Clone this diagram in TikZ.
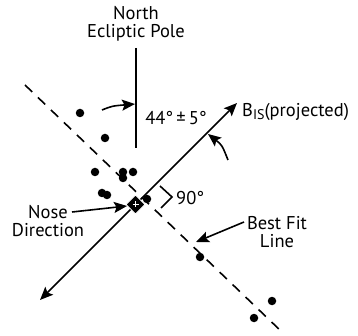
\documentclass[tikz,border=0pt]{standalone}
\usepackage{fontspec}
\setmainfont{PT Sans}
\usetikzlibrary{arrows.meta,shapes.geometric}
\begin{document}
\begin{tikzpicture}[x=1pt,y=-1pt,
  every node/.style={font=\fontsize{18.5}{20}\selectfont, inner sep=0pt},
  ln/.style={line width=1.7pt},
  arr/.style={line width=1.6pt,-{Stealth[length=13pt,width=11pt,inset=2.5pt]}},
  dot/.style={circle,fill=black,minimum size=8.5pt,inner sep=0pt},
  lbl/.style={align=center}]
\useasboundingbox (0,0) rectangle (358,336);
% coordinates
\coordinate (poleT) at (136,48);
\coordinate (poleB) at (136,148);
\coordinate (fitA) at (25,85);
\coordinate (fitB) at (283,333);
\coordinate (bLo) at (40,300);
\coordinate (bHi) at (237,103);
% lines
\draw[ln] (poleT) -- (poleB);
\draw[line width=1.6pt, dash pattern=on 10pt off 8pt] (fitA) -- (fitB);
\draw[line width=1.7pt,{Stealth[length=13pt,width=11pt,inset=2.5pt]}-{Stealth[length=13pt,width=11pt,inset=2.5pt]}] (bLo) -- (bHi);
% diamond (nose direction)
\node[draw=white,line width=0.6pt,fill=black,diamond,minimum size=19pt] (nose) at (135.5,204.5) {};
\draw[white,line width=1.3pt] (nose.center) ++(-3,0) -- ++(6,0) (nose.center) ++(0,-3) -- ++(0,6);
% dots
\foreach \n/\p in {d1/{(80,113)},d2/{(105,138)},d3/{(95,172)},d4/{(123,172)},d5/{(133,172)},d6/{(123,178)},d7/{(102,193)},d8/{(107,195)},d9/{(147,199)},d10/{(200,257)},d11/{(272,301)},d12/{(254,318)}}
  \node[dot] (\n) at \p {};
% labels
\node[lbl] (pole) at (136,24) {North\\[-2pt]Ecliptic Pole};
\node (ang) at (176,118) {44°\,±\,5°};
\node[anchor=west] (bis) at (242,112) {B{\fontsize{14}{14}\selectfont\raisebox{-3pt}{IS}}(projected)};
\node[lbl] (nosel) at (48,221) {Nose\\[-2pt]Direction};
\node[lbl] (fit) at (277,232) {Best Fit\\[-2pt]Line};
\node[anchor=west] (ninety) at (176,198) {90°};
% bracket
\coordinate (brA) at (160,186);
\coordinate (brC) at (172,197);
\coordinate (brB) at (161,208);
\draw[line width=1.6pt] (brA) -- (brC) -- (brB);
% arrows
\coordinate (a1s) at (102,110);
\coordinate (a1e) at (135,104);
\draw[arr] (a1s) .. controls (112,106) .. (a1e);
\coordinate (a2s) at (228,160);
\coordinate (a2e) at (208,134);
\draw[arr] (a2s) .. controls (222,145) .. (a2e);
\coordinate (a3s) at (72,212);
\coordinate (a3e) at (127,206);
\draw[arr] (a3s) -- (a3e);
\coordinate (a4s) at (244,222);
\coordinate (a4e) at (196,242);
\draw[arr] (a4s) -- (a4e);
\end{tikzpicture}
\end{document}
